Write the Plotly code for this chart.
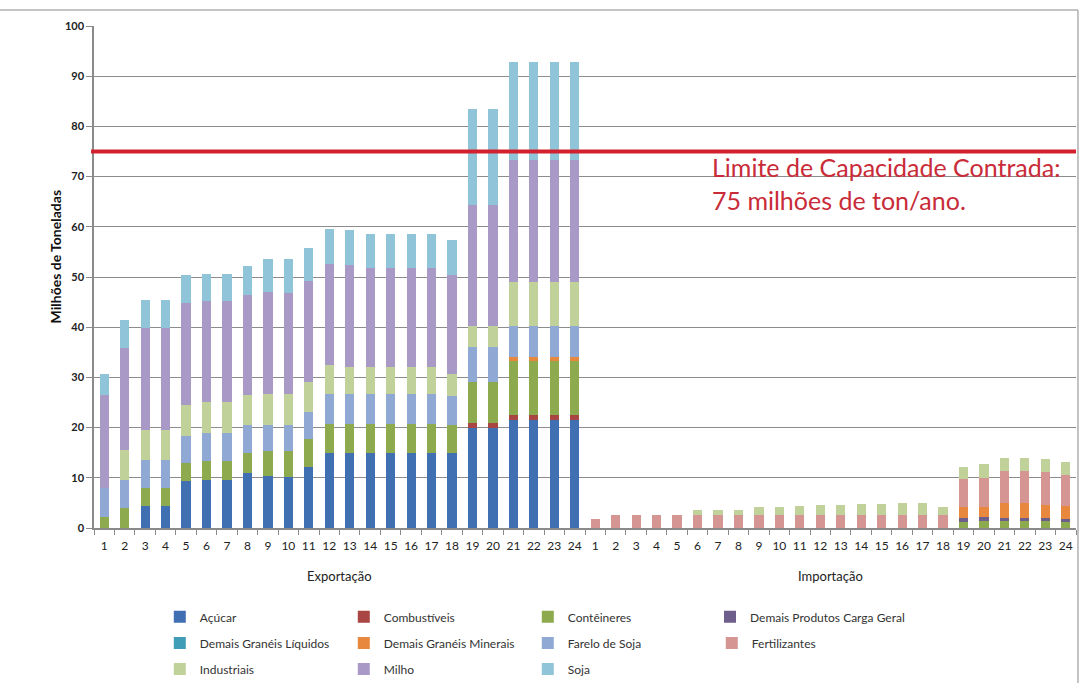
import plotly.graph_objects as go

# ---------------- data ----------------
export_labels = [str(i) for i in range(1, 25)]
import_labels = [str(i) for i in range(1, 25)]
tick_labels = export_labels + import_labels

series_names = ["Açúcar", "Combustíveis", "Contêineres", "Demais Produtos Carga Geral",
                "Demais Granéis Líquidos", "Demais Granéis Minerais", "Farelo de Soja",
                "Fertilizantes", "Industriais", "Milho", "Soja"]

series_colors = ["#4070B2", "#A94542", "#8DAB4E", "#6E5E8C",
                 "#3F9DB8", "#E8883F", "#8FA9D4",
                 "#D49593", "#C0D19A", "#A999C6", "#90C5D9"]

# Exportação (24) + Importação (24)
acucar = [0, 0, 4.3, 4.3, 9.3, 9.6, 9.6, 10.9, 10.3, 10.1, 12.1, 14.9,
          14.9, 14.9, 14.9, 14.9, 14.9, 14.9, 19.9, 19.9, 21.6, 21.6, 21.6, 21.6] + [0] * 24
combustiveis = [0] * 18 + [1.0, 1.0, 1.0, 1.0, 1.0, 1.0] + [0] * 24
conteineres = [2.2, 3.9, 3.6, 3.6, 3.6, 3.7, 3.7, 4.0, 5.0, 5.2, 5.6, 5.9,
               5.9, 5.9, 5.9, 5.9, 5.9, 5.7, 8.2, 8.2, 10.6, 10.6, 10.6, 10.6] + \
              [0] * 18 + [1.2, 1.4, 1.3, 1.3, 1.3, 1.2]
demais_carga_geral = [0] * 24 + [0] * 18 + [0.7, 0.7, 0.6, 0.6, 0.6, 0.5]
demais_liquidos = [0] * 48
demais_minerais = [0] * 20 + [0.8, 0.8, 0.8, 0.8] + \
                  [0] * 18 + [2.3, 2.1, 3.0, 3.0, 2.7, 2.6]
farelo = [5.7, 5.6, 5.6, 5.6, 5.5, 5.6, 5.6, 5.7, 5.3, 5.3, 5.4, 5.8,
          5.8, 5.8, 5.8, 5.8, 5.8, 5.6, 6.9, 6.9, 6.3, 6.3, 6.3, 6.3] + [0] * 24
fertilizantes = [0] * 24 + \
                [1.7, 2.5, 2.5, 2.5, 2.6, 2.5, 2.5, 2.5, 2.5, 2.5, 2.5, 2.5,
                 2.5, 2.5, 2.5, 2.5, 2.5, 2.5, 5.5, 5.8, 6.5, 6.5, 6.6, 6.3]
industriais = [0, 6.0, 6.1, 6.1, 6.2, 6.2, 6.2, 5.8, 6.1, 6.1, 6.0, 5.8,
               5.5, 5.5, 5.5, 5.5, 5.5, 4.4, 4.3, 4.3, 8.7, 8.7, 8.7, 8.7] + \
              [0, 0, 0, 0, 0, 1.0, 1.0, 1.1, 1.7, 1.6, 1.9, 2.1,
               2.0, 2.2, 2.2, 2.5, 2.5, 1.6, 2.5, 2.8, 2.6, 2.6, 2.6, 2.5]
milho = [18.5, 20.4, 20.2, 20.2, 20.2, 20.2, 20.2, 20.1, 20.4, 20.2, 20.2, 20.2,
         20.3, 19.7, 19.7, 19.7, 19.7, 19.8, 24.0, 24.0, 24.3, 24.3, 24.3, 24.3] + [0] * 24
soja = [4.2, 5.6, 5.7, 5.7, 5.5, 5.3, 5.3, 5.6, 6.4, 6.6, 6.4, 7.0,
        6.9, 6.8, 6.8, 6.8, 6.8, 7.0, 19.1, 19.1, 19.6, 19.6, 19.6, 19.6] + [0] * 24

series_values = [acucar, combustiveis, conteineres, demais_carga_geral, demais_liquidos,
                 demais_minerais, farelo, fertilizantes, industriais, milho, soja]

group_titles = ["Exportação", "Importação"]
limit_value = 75
limit_text = "Limite de Capacidade Contrada:<br>75 milhões de ton/ano."
y_ticks = list(range(0, 101, 10))

# ---------------- figure ----------------
FONT = "Lato"
x_pos = list(range(len(tick_labels)))
legend_ids = ["legend"] * 3 + ["legend4"] + ["legend2"] * 4 + ["legend3"] * 3

fig = go.Figure()
for name, color, vals, lg in zip(series_names, series_colors, series_values, legend_ids):
    fig.add_trace(go.Bar(x=x_pos, y=vals, name=name, marker=dict(color=color, line=dict(width=0)),
                         legend=lg, hoverinfo="skip"))

row_y = [-0.177, -0.229, -0.281]
legend_common = dict(orientation="h", xanchor="left", yanchor="middle",
                     entrywidth=139, entrywidthmode="pixels", traceorder="normal",
                     bgcolor="rgba(0,0,0,0)", font=dict(family=FONT, size=12, color="#333333"),
                     itemclick=False, itemdoubleclick=False)

fig.update_layout(
    width=1081, height=683,
    margin=dict(l=94, r=5, t=26, b=155, autoexpand=False),
    paper_bgcolor="white", plot_bgcolor="white",
    barmode="stack", bargap=0.55,
    showlegend=True,
    legend=dict(x=0.067, y=row_y[0], **legend_common),
    legend2=dict(x=0.067, y=row_y[1], **legend_common),
    legend3=dict(x=0.067, y=row_y[2], **legend_common),
    legend4=dict(orientation="h", x=0.6273, xanchor="left", y=row_y[0], yanchor="middle",
                 bgcolor="rgba(0,0,0,0)", font=dict(family=FONT, size=12, color="#333333"),
                 itemclick=False, itemdoubleclick=False),
    font=dict(family=FONT, color="#222222"),
    xaxis=dict(range=[-0.5, len(tick_labels) - 0.5], tickmode="array", tickvals=x_pos,
               ticktext=tick_labels, ticks="outside", ticklen=6, tickcolor="rgba(0,0,0,0)",
               tickfont=dict(family=FONT, size=12, color="#222222"),
               showline=True, linecolor="#8a8a8a", linewidth=1.5, showgrid=False, zeroline=False,
               minor=dict(tick0=-0.5, dtick=1, ticks="outside", ticklen=5, tickcolor="#8a8a8a",
                          tickwidth=1, showgrid=False)),
    yaxis=dict(range=[0, 100], tickmode="array", tickvals=y_ticks,
               ticks="outside", ticklen=6, tickcolor="#8a8a8a",
               tickfont=dict(family=FONT, size=11, color="#222222", weight=700),
               showline=True, linecolor="#8a8a8a", linewidth=1.5,
               showgrid=True, gridcolor="#8c8c8c", gridwidth=1.3, zeroline=False),
)

# capacity limit line
fig.add_shape(type="line", xref="paper", yref="y", x0=-0.003, x1=1, y0=limit_value, y1=limit_value,
              line=dict(color="#D3202E", width=4))
fig.add_annotation(xref="paper", yref="y", x=0.627, y=68.6, xanchor="left", yanchor="middle",
                   text=limit_text, showarrow=False, align="left",
                   font=dict(family=FONT, size=25, color="#C92B38"))

# group titles
fig.add_annotation(xref="x", yref="paper", x=11.5, y=-0.116, text=group_titles[0], showarrow=False,
                   font=dict(family=FONT, size=13, color="#222222"))
fig.add_annotation(xref="x", yref="paper", x=35.5, y=-0.116, text=group_titles[1], showarrow=False,
                   font=dict(family=FONT, size=13, color="#222222"))

# y title
fig.add_annotation(xref="paper", yref="paper", x=-0.0499, y=0.54, text="Milhões de Toneladas",
                   textangle=-90, showarrow=False,
                   font=dict(family=FONT, size=14, color="#111111", weight=700))

# outer frame lines (top and right)
fig.add_shape(type="line", xref="paper", yref="paper", x0=-0.2, x1=1.002, y0=1.032, y1=1.032,
              line=dict(color="#b0b0b0", width=1.5))
fig.add_shape(type="line", xref="paper", yref="paper", x0=1.002, x1=1.002, y0=1.032, y1=-0.4,
              line=dict(color="#b0b0b0", width=1.5))

fig.write_html("out.html")
